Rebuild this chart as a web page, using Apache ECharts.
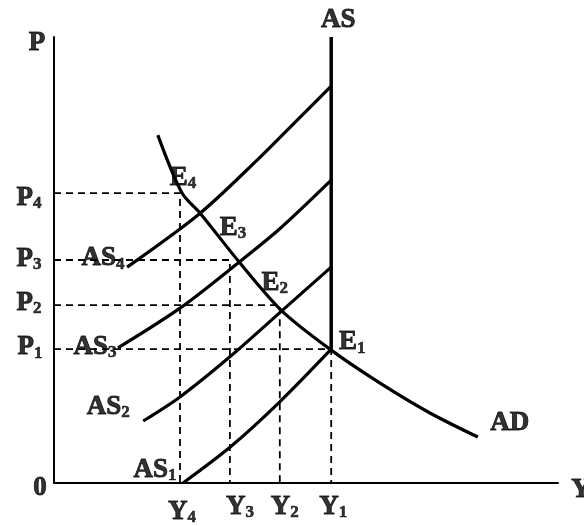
<!DOCTYPE html>
<html>
<head>
<meta charset="utf-8">
<script src="https://cdn.jsdelivr.net/npm/echarts@6/dist/echarts.min.js"></script>
<style>
  html, body { margin: 0; padding: 0; background: #fff; }
  #chart { width: 584px; height: 526px; }
</style>
</head>
<body>
<div id="chart"></div>
<script>
// 产出水平 Y1..Y4 与价格水平 P1..P4
var yLevels = [5.5, 4.48, 3.49, 2.5];
var pLevels = [3.0, 3.99, 5.0, 6.5];
var asTop = 10;

// 总供给曲线 AS1..AS4 (短期), 以及总需求 AD
var as1 = [[2.56, 0], [3.49, 0.8], [4.48, 1.82], [5.5, 3.0]];
var as2 = [[1.77, 1.39], [2.5, 1.93], [3.49, 2.83], [4.52, 3.86], [5.5, 4.84]];
var as3 = [[1.27, 3.03], [2.5, 3.92], [3.67, 4.95], [4.48, 5.70], [5.5, 6.79]];
var as4 = [[1.45, 4.84], [2.9, 6.05], [4.03, 7.24], [4.88, 8.2], [5.5, 8.9]];
var ad = [[2.06, 7.80], [2.54, 6.5], [2.9, 6.05], [3.67, 4.96], [4.52, 3.86],
          [5.5, 2.98], [6.47, 2.24], [7.46, 1.57], [8.41, 1.03]];

var chart = echarts.init(document.getElementById('chart'));

var font = 'Liberation Serif';
var rich = {
  m: { fontSize: 27, fontWeight: 'bold', fontFamily: font, color: '#000',
       textBorderColor: '#000', textBorderWidth: 0.9 },
  s: { fontSize: 17, fontWeight: 'bold', fontFamily: font, color: '#000',
       textBorderColor: '#000', textBorderWidth: 0.6, padding: [12, 0, 0, 0] }
};
function lab(main, sub) {
  return '{m|' + main + '}' + (sub ? '{s|' + sub + '}' : '');
}

// 文字标注: 锚点来自数据, 偏移为像素
var asCurves = [as1, as2, as3, as4];
var labels = [
  { t: lab('P'), at: [0, asTop], off: [-17, 6] },
  { t: lab('AS'), at: [yLevels[0], asTop], off: [7, -17] },
  { t: lab('0'), at: [0, 0], off: [-14, 5] },
  { t: lab('Y'), at: [10, 0], off: [23, 7] },
  { t: lab('AD'), at: ad[ad.length - 1], off: [32, -14] },
  { t: lab('P', '1'), at: [0, pLevels[0]], off: [-24, -2] },
  { t: lab('P', '2'), at: [0, pLevels[1]], off: [-25, -2] },
  { t: lab('P', '3'), at: [0, pLevels[2]], off: [-25, -1] },
  { t: lab('P', '4'), at: [0, pLevels[3]], off: [-25, 5] },
  { t: lab('Y', '1'), at: [yLevels[0], 0], off: [2, 24] },
  { t: lab('Y', '2'), at: [yLevels[1], 0], off: [5, 24] },
  { t: lab('Y', '3'), at: [yLevels[2], 0], off: [10, 24] },
  { t: lab('Y', '4'), at: [yLevels[3], 0], off: [2, 29] },
  { t: lab('E', '1'), at: [yLevels[0], pLevels[0]], off: [21, -7] },
  { t: lab('E', '2'), at: [yLevels[1], pLevels[1]], off: [-5, -22] },
  { t: lab('E', '3'), at: [yLevels[2], pLevels[2]], off: [3, -32] },
  { t: lab('E', '4'), at: [yLevels[3], pLevels[3]], off: [3, -15] },
  { t: lab('AS', '1'), at: as1[0], off: [-28, -13] },
  { t: lab('AS', '2'), at: as2[0], off: [-35, -14] },
  { t: lab('AS', '3'), at: as3[0], off: [-23, -1] },
  { t: lab('AS', '4'), at: as4[0], off: [-24, -9] }
];

var series = [];

// 虚线: 从 P 轴到均衡点再到 Y 轴
for (var i = 0; i < 4; i++) {
  series.push({
    type: 'line',
    data: [[0, pLevels[i]], [yLevels[i], pLevels[i]], [yLevels[i], 0]],
    symbol: 'none',
    silent: true,
    lineStyle: { color: '#000', width: 1.8, type: [7, 5] }
  });
}

// 长期 AS 垂直线
series.push({
  type: 'line',
  data: [[yLevels[0], pLevels[0]], [yLevels[0], asTop]],
  symbol: 'none',
  lineStyle: { color: '#000', width: 3.5 }
});

asCurves.forEach(function (c) {
  series.push({
    type: 'line', data: c, symbol: 'none', smooth: 0.3,
    lineStyle: { color: '#000', width: 3.2 }
  });
});

series.push({
  type: 'line', data: ad, symbol: 'none', smooth: 0.3,
  lineStyle: { color: '#000', width: 3.2 }
});

series.push({
  type: 'scatter',
  symbolSize: 1,
  itemStyle: { color: 'transparent' },
  silent: true,
  z: 10,
  data: labels.map(function (l) {
    return {
      value: l.at,
      label: { show: true, position: 'inside', formatter: l.t, offset: l.off, rich: rich }
    };
  })
});

var option = {
  animation: false,
  backgroundColor: '#fff',
  grid: { left: 54, top: 37, width: 504, height: 446 },
  xAxis: {
    type: 'value', min: 0, max: 10,
    axisLine: { show: true, lineStyle: { color: '#000', width: 2 } },
    axisTick: { show: false }, axisLabel: { show: false }, splitLine: { show: false }
  },
  yAxis: {
    type: 'value', min: 0, max: 10,
    axisLine: { show: true, lineStyle: { color: '#000', width: 2 } },
    axisTick: { show: false }, axisLabel: { show: false }, splitLine: { show: false }
  },
  series: series
};

chart.setOption(option);
</script>
</body>
</html>
